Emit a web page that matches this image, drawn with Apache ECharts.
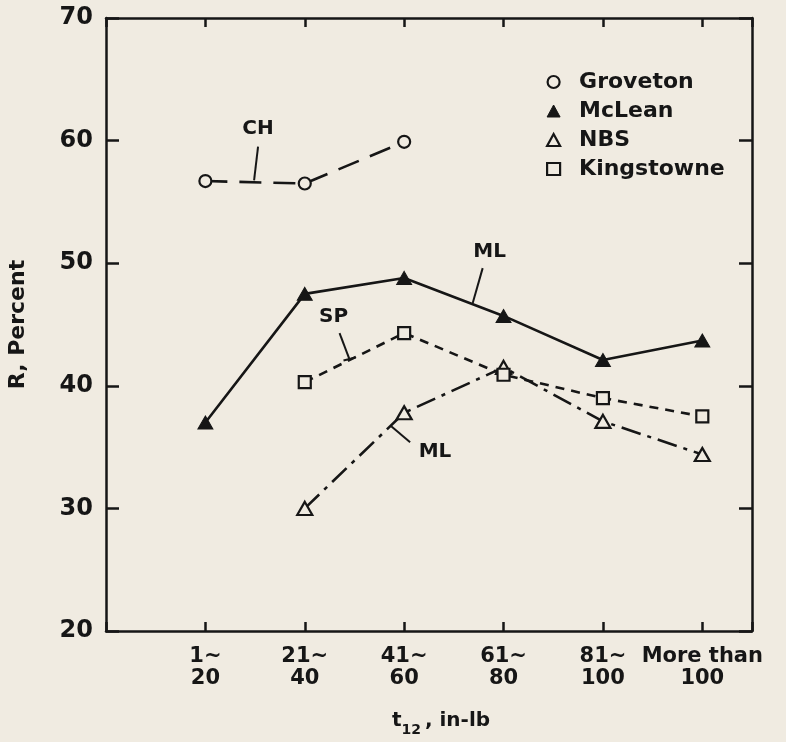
<!DOCTYPE html>
<html>
<head>
<meta charset="utf-8">
<script src="https://cdn.jsdelivr.net/npm/echarts@6/dist/echarts.min.js"></script>
<style>
html,body{margin:0;padding:0;background:#f0ebe1;}
#chart{width:786px;height:742px;}
</style>
</head>
<body>
<div id="chart"></div>
<script>
// ---- data ----
const categories = ['1~\n20', '21~\n40', '41~\n60', '61~\n80', '81~\n100', 'More than\n100'];
const categoryPos = [1, 2, 3, 4, 5, 6];
const groveton   = [56.7, 56.5, 59.9, null, null, null];
const mclean     = [37.0, 47.5, 48.8, 45.7, 42.1, 43.7];
const nbs        = [null, 30.0, 37.8, 41.5, 37.1, 34.4];
const kingstowne = [null, 40.3, 44.3, 40.9, 39.0, 37.5];
const yTicks = [20, 30, 40, 50, 60, 70];

// annotations (data coordinates)
const annotations = [
  {text: 'CH', at: [1.53, 61.0], leader: [[1.53, 59.5], [1.49, 56.75]]},
  {text: 'ML', at: [3.86, 50.9], leader: [[3.79, 49.6], [3.69, 46.75]]},
  {text: 'SP', at: [2.29, 45.6], leader: [[2.35, 44.3], [2.45, 42.15]], bar: true},
  {text: 'ML', at: [3.31, 34.6], leader: [[3.06, 35.4], [2.87, 36.7]]}
];

const BG = '#f0ebe1';
const INK = '#161616';
const FONT = 'DejaVu Sans';

function pairs(arr) {
  return categoryPos.map((x, i) => [x, arr[i]]).filter(p => p[1] !== null);
}

const chart = echarts.init(document.getElementById('chart'));

const axisCommon = {
  type: 'value',
  axisLine: {show: true, onZero: false, lineStyle: {color: INK, width: 2.5}},
  axisTick: {show: true, inside: true, length: 9, lineStyle: {color: INK, width: 2.5}},
  splitLine: {show: false}
};

const option = {
  backgroundColor: BG,
  animation: false,
  grid: {left: 106, right: 34, top: 18, bottom: 111, outerBoundsMode: 'none'},
  xAxis: [
    Object.assign({}, axisCommon, {
      position: 'bottom', min: 0, max: 6.5, interval: 1,
      axisLabel: {
        show: true, margin: 15, color: INK, fontFamily: FONT, fontWeight: 'bold',
        fontSize: 21, lineHeight: 22, align: 'center',
        formatter: v => {
          const i = categoryPos.indexOf(v);
          return i >= 0 ? categories[i] : '';
        }
      },
      name: '{a|t}{s|12}{a|, in-lb}',
      nameLocation: 'middle', nameGap: 76,
      nameTextStyle: {
        padding: [0, 0, 0, 24],
        rich: {
          a: {fontFamily: FONT, fontWeight: 'bold', fontSize: 20, color: INK, verticalAlign: 'bottom', lineHeight: 24},
          s: {fontFamily: FONT, fontWeight: 'bold', fontSize: 14, color: INK, verticalAlign: 'bottom', lineHeight: 16, padding: [0, 4, -6, 0]}
        }
      }
    }),
    Object.assign({}, axisCommon, {
      position: 'top', min: 0, max: 6.5, interval: 1,
      axisLabel: {show: false}
    })
  ],
  yAxis: [
    Object.assign({}, axisCommon, {
      position: 'left', min: 20, max: 70, interval: 10,
      axisTick: {show: true, inside: true, length: 13, lineStyle: {color: INK, width: 2.5}},
      axisLabel: {
        show: true, margin: 13, color: INK, fontFamily: FONT, fontWeight: 'bold', fontSize: 24,
        formatter: v => yTicks.indexOf(v) >= 0 ? String(v) : ''
      },
      name: 'R, Percent', nameLocation: 'middle', nameGap: 77,
      nameTextStyle: {fontFamily: FONT, fontWeight: 'bold', fontSize: 22, color: INK}
    }),
    Object.assign({}, axisCommon, {
      position: 'right', min: 20, max: 70, interval: 10,
      axisTick: {show: true, inside: true, length: 13, lineStyle: {color: INK, width: 2.5}},
      axisLabel: {show: false}
    })
  ],
  legend: {
    orient: 'vertical', left: 541, top: 66,
    itemWidth: 13, itemHeight: 12, itemGap: 7,
    textStyle: {fontFamily: FONT, fontWeight: 'bold', fontSize: 22, lineHeight: 22, color: INK, padding: [0, 0, 0, 14]},
    data: [
      {name: 'Groveton', icon: 'circle', itemStyle: {color: BG, borderColor: INK, borderWidth: 2.2}},
      {name: 'McLean', icon: 'triangle', itemStyle: {color: INK, borderColor: INK, borderWidth: 1}},
      {name: 'NBS', icon: 'triangle', itemStyle: {color: BG, borderColor: INK, borderWidth: 2.2}},
      {name: 'Kingstowne', icon: 'rect', itemStyle: {color: BG, borderColor: INK, borderWidth: 2.2}}
    ]
  },
  series: [
    {
      name: 'Groveton', type: 'line', data: pairs(groveton),
      symbol: 'circle', symbolSize: 12,
      lineStyle: {color: INK, width: 2.6, type: [22, 12]},
      itemStyle: {color: BG, borderColor: INK, borderWidth: 2.2}, z: 3
    },
    {
      name: 'McLean', type: 'line', data: pairs(mclean),
      symbol: 'triangle', symbolSize: [15, 13],
      lineStyle: {color: INK, width: 2.6, type: 'solid'},
      itemStyle: {color: INK, borderColor: INK, borderWidth: 1}, z: 3
    },
    {
      name: 'NBS', type: 'line', data: pairs(nbs),
      symbol: 'triangle', symbolSize: [15, 13],
      lineStyle: {color: INK, width: 2.6, type: [20, 7, 4, 7]},
      itemStyle: {color: BG, borderColor: INK, borderWidth: 2.2}, z: 4
    },
    {
      name: 'Kingstowne', type: 'line', data: pairs(kingstowne),
      symbol: 'rect', symbolSize: 12,
      lineStyle: {color: INK, width: 2.6, type: [9, 7]},
      itemStyle: {color: BG, borderColor: INK, borderWidth: 2.2}, z: 4
    }
  ]
};

chart.setOption(option);

function px(p) { return chart.convertToPixel({xAxisIndex: 0, yAxisIndex: 0}, p); }
const graphics = [];
annotations.forEach(a => {
  const c = px(a.at);
  graphics.push({
    type: 'text', x: c[0], y: c[1], z: 10,
    style: {text: a.text, fontFamily: FONT, fontWeight: 'bold', fontSize: 20, fill: INK, align: 'center', verticalAlign: 'middle'}
  });
  const p1 = px(a.leader[0]), p2 = px(a.leader[1]);
  graphics.push({
    type: 'line', z: 10,
    shape: {x1: p1[0], y1: p1[1], x2: p2[0], y2: p2[1]},
    style: {stroke: INK, lineWidth: 2}
  });
  if (a.bar) {
    graphics.push({
      type: 'line', z: 10,
      shape: {x1: p2[0] - 6, y1: p2[1] + 1, x2: p2[0] + 6, y2: p2[1] - 2},
      style: {stroke: INK, lineWidth: 2}
    });
  }
});
chart.setOption({graphic: graphics});
</script>
</body>
</html>
